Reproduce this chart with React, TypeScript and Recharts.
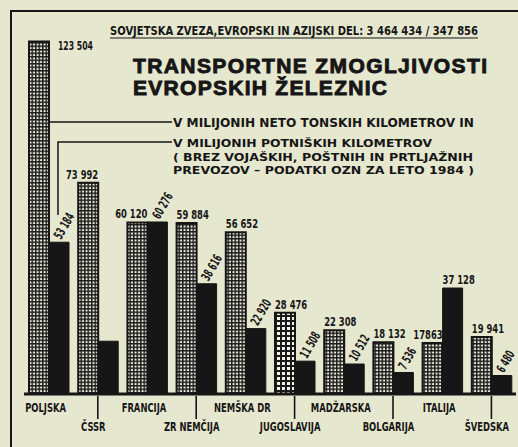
import React from 'react';
import { BarChart, Bar, XAxis, YAxis, Cell, LabelList } from 'recharts';

const countries = ['POLJSKA', 'ČSSR', 'FRANCIJA', 'ZR NEMČIJA', 'NEMŠKA DR', 'JUGOSLAVIJA', 'MADŽARSKA', 'BOLGARIJA', 'ITALIJA', 'ŠVEDSKA'];
const freight = [123504, 73992, 60120, 59884, 56652, 28476, 22308, 18132, 17863, 19941];
const passenger = [53184, 18500, 60276, 38616, 22920, 11508, 10512, 7536, 37128, 6480];
const freightLabels = ['123 504', '73 992', '60 120', '59 884', '56 652', '28 476', '22 308', '18 132', '17863', '19 941'];
const passengerLabels = ['53 184', '', '60 276', '38 616', '22 920', '11 508', '10 512', '7 536', '37 128', '6 480'];
// how the freight value sits over its bar: 'side' (beside top), 'end' (right-aligned), 'start'
const freightLabelAlign = ['side', 'end', 'end', 'start', 'start', 'start', 'start', 'start', 'end', 'start'];
// passenger label style: 'rot' rotated, 'flat' horizontal, 'none'
const passengerLabelStyle = ['rot', 'none', 'rot', 'rot', 'rot', 'rot', 'rot', 'rot', 'flat', 'rot'];
const highlighted = 'JUGOSLAVIJA';

const title1 = 'TRANSPORTNE ZMOGLJIVOSTI';
const title2 = 'EVROPSKIH ŽELEZNIC';
const subtitle = 'SOVJETSKA ZVEZA,EVROPSKI IN AZIJSKI DEL:  3 464 434 / 347 856';
const legend1 = 'V MILIJONIH NETO TONSKIH KILOMETROV IN';
const legend2 = ['V MILIJONIH POTNIŠKIH KILOMETROV', '( BREZ VOJAŠKIH, POŠTNIH IN PRTLJAŽNIH', 'PREVOZOV  –  PODATKI OZN ZA LETO 1984 )'];

const data = countries.map((name, i) => ({ name, freight: freight[i], passenger: passenger[i] }));

const INK = '#161616';
const PAPER = '#e6e7cf';
const COND = '"DejaVu Sans Condensed", "DejaVu Sans", sans-serif';

const CText = ({ x, y, anchor = 'start', rot = 0, sx = 0.7, size = 13, children }: any) => (
  <g transform={`translate(${x},${y}) rotate(${rot}) scale(${sx},1)`}>
    <text x={0} y={0} textAnchor={anchor} fontFamily={COND} fontWeight="bold" fontSize={size} fill={INK}>
      {children}
    </text>
  </g>
);

const CatTick = (props: any) => {
  const { x, y, payload, index } = props;
  const lower = index % 2 === 1;
  if (!lower) {
    return <CText x={x - 3} y={y + 18} anchor="middle" sx={0.72}>{payload.value}</CText>;
  }
  return (
    <g>
      <line x1={x} x2={x} y1={y + 2} y2={y + 25} stroke={INK} strokeWidth={1.6} />
      <CText x={x - 4.5} y={y + 37} anchor="middle" sx={0.72}>{payload.value}</CText>
    </g>
  );
};

const FreightLabel = (props: any) => {
  const { x, y, width, index } = props;
  const a = freightLabelAlign[index];
  const t = freightLabels[index];
  if (a === 'side') return <CText x={x + width + 9} y={y + 8} sx={0.66}>{t}</CText>;
  if (a === 'end') return <CText x={x + width} y={y - 4} anchor="end" sx={0.72}>{t}</CText>;
  return <CText x={x} y={y - 4} sx={0.72}>{t}</CText>;
};

const PassengerLabel = (props: any) => {
  const { x, y, index } = props;
  const s = passengerLabelStyle[index];
  const t = passengerLabels[index];
  if (s === 'none') return null;
  if (s === 'flat') return <CText x={x} y={y - 4} sx={0.72}>{t}</CText>;
  return <CText x={x + 12} y={y - 2} rot={-60} sx={0.62}>{t}</CText>;
};

export default function App() {
  return (
    <div style={{ position: 'absolute', left: 0, top: 0, width: 518, height: 447, background: PAPER, overflow: 'hidden' }}>
      <BarChart
        width={518}
        height={447}
        data={data}
        margin={{ top: 23, right: 2, bottom: 0, left: 24 }}
        barGap={0}
        barCategoryGap={5}
      >
        <defs>
          <pattern id="fine" width="3.5" height="3.5" patternUnits="userSpaceOnUse">
            <rect width="3.5" height="3.5" fill="#1e1e1e" />
            <rect x="1.5" y="1.5" width="2" height="2" fill="#efefe0" />
          </pattern>
          <pattern id="coarse" width="5" height="5" patternUnits="userSpaceOnUse">
            <rect width="5" height="5" fill="#1a1a1a" />
            <rect x="2" y="2" width="3" height="3" fill="#f2f2e4" />
          </pattern>
        </defs>
        <XAxis
          dataKey="name"
          interval={0}
          height={53}
          tickSize={0}
          tickMargin={0}
          tickLine={false}
          axisLine={{ stroke: INK, strokeWidth: 3 }}
          tick={<CatTick />}
        />
        <YAxis hide domain={[0, 130000]} />
        <Bar dataKey="freight" isAnimationActive={false} stroke={INK} strokeWidth={2}>
          {data.map((d) => (
            <Cell key={d.name} fill={d.name === highlighted ? 'url(#coarse)' : 'url(#fine)'} />
          ))}
          <LabelList dataKey="freight" content={<FreightLabel />} />
        </Bar>
        <Bar dataKey="passenger" isAnimationActive={false} fill={INK} stroke={INK} strokeWidth={1}>
          <LabelList dataKey="passenger" content={<PassengerLabel />} />
        </Bar>
      </BarChart>
      <svg width={518} height={447} style={{ position: 'absolute', left: 0, top: 0, pointerEvents: 'none' }}>
        <line x1={11} x2={518} y1={11} y2={11} stroke={INK} strokeWidth={2} />
        <line x1={11} x2={11} y1={10} y2={447} stroke={INK} strokeWidth={2} />
        <text x={110} y={35} fontFamily={COND} fontWeight="bold" fontSize={12} fill={INK} textLength={368} lengthAdjust="spacingAndGlyphs">
          {subtitle}
        </text>
        <line x1={110} x2={478} y1={38} y2={38} stroke={INK} strokeWidth={1.2} />
        <text x={133} y={73} fontFamily='"Liberation Sans", Arial, sans-serif' fontWeight="bold" fontSize={21} fill={INK} stroke={INK} strokeWidth={0.9} textLength={354} lengthAdjust="spacing">
          {title1}
        </text>
        <text x={133} y={95} fontFamily='"Liberation Sans", Arial, sans-serif' fontWeight="bold" fontSize={21} fill={INK} stroke={INK} strokeWidth={0.9} textLength={254} lengthAdjust="spacing">
          {title2}
        </text>
        <line x1={49} x2={172} y1={122} y2={122} stroke={INK} strokeWidth={1.5} />
        <polyline points="58,215 58,142 172,142" fill="none" stroke={INK} strokeWidth={1.5} />
        <text x={173} y={127} fontFamily='"DejaVu Sans", sans-serif' fontWeight="bold" fontSize={11.5} fill={INK} textLength={301} lengthAdjust="spacingAndGlyphs">
          {legend1}
        </text>
        <text x={173} y={147} fontFamily='"DejaVu Sans", sans-serif' fontWeight="bold" fontSize={11} fill={INK} textLength={259} lengthAdjust="spacingAndGlyphs">
          {legend2[0]}
        </text>
        <text x={173} y={160.5} fontFamily='"DejaVu Sans", sans-serif' fontWeight="bold" fontSize={11} fill={INK} textLength={300} lengthAdjust="spacingAndGlyphs">
          {legend2[1]}
        </text>
        <text x={173} y={174} fontFamily='"DejaVu Sans", sans-serif' fontWeight="bold" fontSize={11} fill={INK} textLength={301} lengthAdjust="spacingAndGlyphs">
          {legend2[2]}
        </text>
      </svg>
    </div>
  );
}
